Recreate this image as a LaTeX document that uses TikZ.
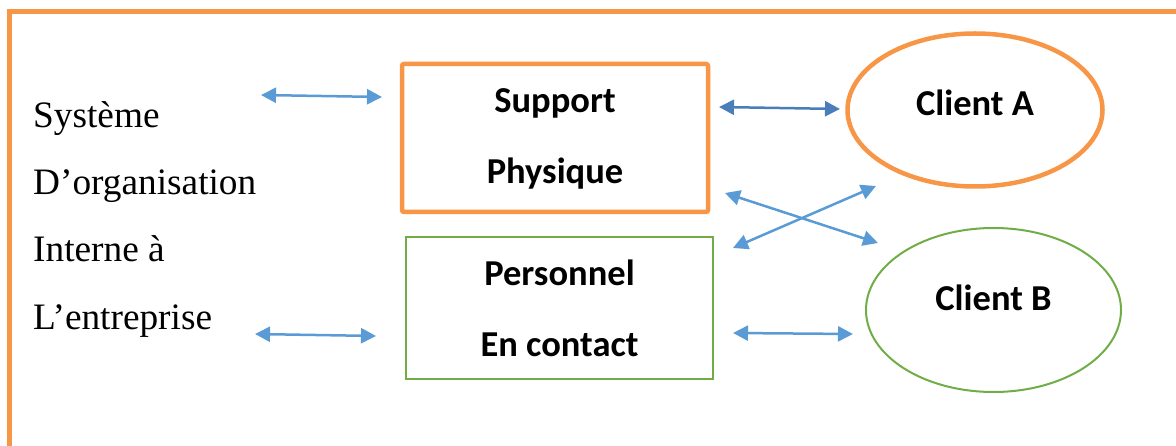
\documentclass[tikz,border=0pt]{standalone}
\usepackage{fontspec}
\setmainfont{Liberation Serif}
\newfontfamily\labelfont{Carlito}
\usetikzlibrary{shapes.geometric,arrows.meta}
\definecolor{frameorange}{HTML}{F79646}
\definecolor{boxgreen}{HTML}{70AD47}
\definecolor{linkblue}{HTML}{5B9BD5}
\definecolor{linkdark}{HTML}{4A7EBB}
\tikzset{
  sidetext/.style={anchor=base west,inner sep=0pt,font=\fontsize{37.3}{44}\selectfont},
  boxlabel/.style={align=center,font=\labelfont\bfseries\fontsize{36.5}{44}\selectfont},
  orangebox/.style={draw=frameorange,line width=4.5pt,rounded corners=2pt,rectangle,boxlabel},
  greenbox/.style={draw=boxgreen,line width=2pt,rectangle,boxlabel},
  orangeoval/.style={draw=frameorange,line width=4.5pt,ellipse,inner sep=0pt,boxlabel,text height=26pt},
  greenoval/.style={draw=boxgreen,line width=2pt,ellipse,inner sep=0pt,boxlabel,text height=26pt},
  link/.style={draw=linkblue,line width=2.5pt,{Triangle[length=15pt,width=15pt]}-{Triangle[length=15pt,width=15pt]}},
  darklink/.style={link,draw=linkdark}
}
\begin{document}
\begin{tikzpicture}[x=1pt,y=-1pt]
\useasboundingbox (0,0) rectangle (1176,446);
% outer frame: top and left edges only
\draw[frameorange,line width=5pt] (1176,12) -- (9.5,12) -- (9.5,446);

% left column of text
\node[sidetext] (sys1) at (33,128) {Système};
\node[sidetext] (sys2) at (33,195) {D’organisation};
\node[sidetext] (sys3) at (33,262) {Interne à};
\node[sidetext] (sys4) at (33,330) {L’entreprise};

% central boxes
\node[orangebox,text depth=3pt,minimum width=306pt,minimum height=148pt] (sup) at (555,138)
  {Support\\[27pt]Physique};
\node[greenbox,minimum width=307pt,minimum height=142pt] (pers) at (559.5,308)
  {Personnel\\[27pt]En contact};

% clients
\node[orangeoval,text depth=14pt,minimum width=255pt,minimum height=153pt] (cliA) at (975,110) {Client A};
\node[greenoval,text depth=24pt,minimum width=255pt,minimum height=164pt] (cliB) at (993.5,310) {Client B};

% connector end points
\coordinate (l1a) at (261,95);  \coordinate (l1b) at (382,97);
\coordinate (l2a) at (719,107); \coordinate (l2b) at (840,109);
\coordinate (l3a) at (725,193); \coordinate (l3b) at (878,243);
\coordinate (l4a) at (733,248); \coordinate (l4b) at (876,186);
\coordinate (l5a) at (255,334); \coordinate (l5b) at (376,336);
\coordinate (l6a) at (733,333); \coordinate (l6b) at (853,334);

\draw[link] (l1a) -- (l1b);
\draw[darklink] (l2a) -- (l2b);
\draw[link] (l3a) -- (l3b);
\draw[link] (l4a) -- (l4b);
\draw[link] (l5a) -- (l5b);
\draw[link] (l6a) -- (l6b);
\end{tikzpicture}
\end{document}
